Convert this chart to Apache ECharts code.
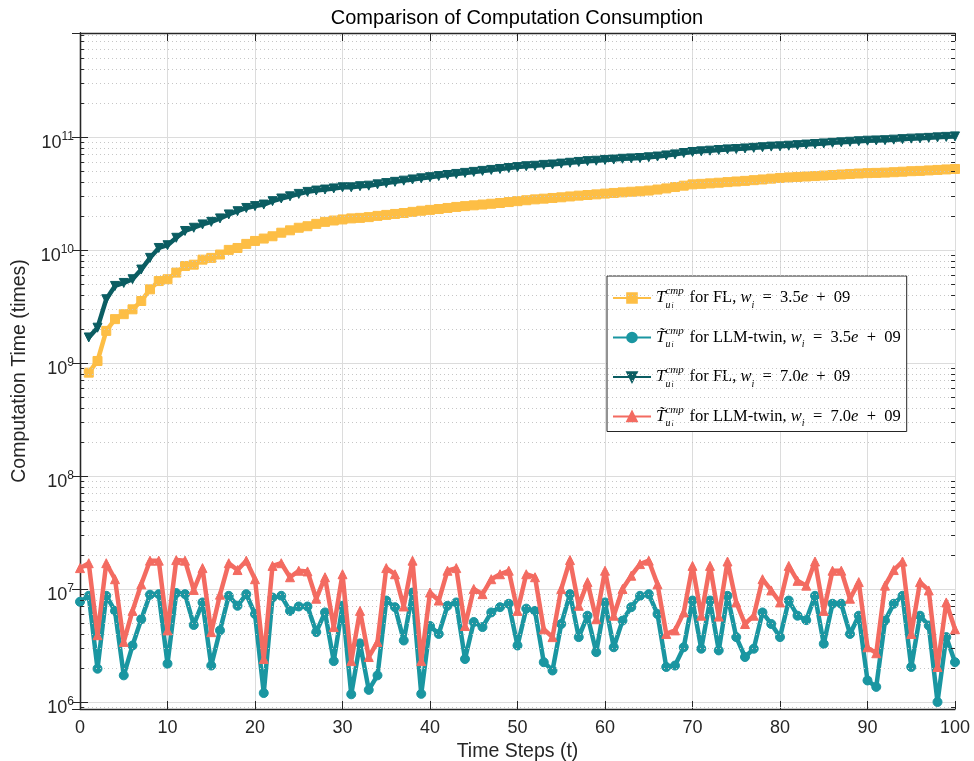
<!DOCTYPE html>
<html>
<head>
<meta charset="utf-8">
<script src="https://cdn.jsdelivr.net/npm/echarts@6/dist/echarts.min.js"></script>
<style>
  html, body { margin: 0; padding: 0; background: #fff; }
  #chart { width: 974px; height: 761px; }
</style>
</head>
<body>
<div id="chart"></div>
<script>
// Time steps on the x axis
const steps = Array.from({ length: 101 }, (_, i) => i);

// Cumulative computation for FL, w_i = 3.5e+09 (starts at t = 1)
const flLow = [null,
  8.2e8, 1.04e9, 1.92e9, 2.44e9, 2.7e9, 2.98e9, 3.53e9, 4.48e9, 5.3e9, 5.5e9,
  6.3e9, 7.2e9, 7.4e9, 8.2e9, 8.5e9, 9.1e9, 1.0e10, 1.04e10, 1.13e10, 1.2e10,
  1.26e10, 1.32e10, 1.42e10, 1.49e10, 1.57e10, 1.62e10, 1.7e10, 1.77e10, 1.82e10, 1.86e10,
  1.9e10, 1.92e10, 1.95e10, 2.0e10, 2.04e10, 2.08e10, 2.12e10, 2.17e10, 2.22e10, 2.26e10,
  2.3e10, 2.35e10, 2.4e10, 2.44e10, 2.48e10, 2.52e10, 2.56e10, 2.6e10, 2.65e10, 2.7e10,
  2.75e10, 2.8e10, 2.84e10, 2.88e10, 2.92e10, 2.97e10, 3.02e10, 3.06e10, 3.1e10, 3.15e10,
  3.19e10, 3.23e10, 3.27e10, 3.3e10, 3.35e10, 3.42e10, 3.5e10, 3.6e10, 3.7e10, 3.8e10,
  3.84e10, 3.88e10, 3.93e10, 3.98e10, 4.03e10, 4.08e10, 4.14e10, 4.2e10, 4.27e10, 4.33e10,
  4.38e10, 4.42e10, 4.46e10, 4.5e10, 4.55e10, 4.6e10, 4.65e10, 4.7e10, 4.74e10, 4.78e10,
  4.8e10, 4.83e10, 4.87e10, 4.92e10, 4.97e10, 5.0e10, 5.05e10, 5.1e10, 5.15e10, 5.2e10];

// LLM-twin computation, w_i = 3.5e+09
const twinLow = [
  7.7e6, 8.7e6, 1.97e6, 8.7e6, 6.4e6, 1.72e6, 3.16e6, 5.4e6, 8.9e6, 9.0e6,
  2.18e6, 9.2e6, 9.0e6, 4.8e6, 7.6e6, 2.1e6, 4.3e6, 8.7e6, 7.1e6, 9.0e6,
  6.0e6, 1.2e6, 8.4e6, 8.7e6, 6.4e6, 7.0e6, 7.0e6, 4.15e6, 6.2e6, 2.3e6,
  7.1e6, 1.17e6, 3.3e6, 1.28e6, 1.72e6, 7.9e6, 6.9e6, 3.5e6, 9.3e6, 1.18e6,
  4.7e6, 4.0e6, 7.1e6, 7.6e6, 2.4e6, 5.1e6, 4.6e6, 6.2e6, 6.9e6, 7.4e6,
  3.16e6, 6.7e6, 6.4e6, 2.25e6, 1.9e6, 4.9e6, 9.0e6, 3.75e6, 5.8e6, 2.76e6,
  7.6e6, 3.05e6, 5.25e6, 6.9e6, 8.7e6, 9.0e6, 6.0e6, 2.04e6, 2.1e6, 3.05e6,
  7.9e6, 2.96e6, 7.9e6, 2.86e6, 8.7e6, 3.75e6, 2.5e6, 2.96e6, 6.2e6, 4.9e6,
  3.75e6, 7.9e6, 5.8e6, 5.3e6, 8.7e6, 3.27e6, 7.4e6, 7.4e6, 4.0e6, 5.8e6,
  1.55e6, 1.36e6, 5.25e6, 7.4e6, 8.7e6, 2.04e6, 5.8e6, 4.75e6, 1.0e6, 3.75e6, 2.25e6];

// Cumulative computation for FL, w_i = 7.0e+09 (starts at t = 1)
const flHigh = [null,
  1.68e9, 2.05e9, 3.66e9, 4.8e9, 5.1e9, 5.5e9, 6.7e9, 8.5e9, 1.04e10, 1.1e10,
  1.28e10, 1.47e10, 1.57e10, 1.68e10, 1.77e10, 1.9e10, 2.06e10, 2.2e10, 2.35e10, 2.44e10,
  2.52e10, 2.7e10, 2.85e10, 2.98e10, 3.13e10, 3.26e10, 3.35e10, 3.42e10, 3.5e10, 3.58e10,
  3.58e10, 3.66e10, 3.7e10, 3.8e10, 3.9e10, 4.0e10, 4.1e10, 4.2e10, 4.3e10, 4.4e10,
  4.5e10, 4.6e10, 4.7e10, 4.8e10, 4.9e10, 5.0e10, 5.1e10, 5.2e10, 5.3e10, 5.4e10,
  5.5e10, 5.55e10, 5.65e10, 5.7e10, 5.8e10, 5.9e10, 6.0e10, 6.1e10, 6.15e10, 6.25e10,
  6.3e10, 6.4e10, 6.45e10, 6.5e10, 6.6e10, 6.7e10, 6.85e10, 7.0e10, 7.2e10, 7.35e10,
  7.45e10, 7.55e10, 7.65e10, 7.75e10, 7.8e10, 7.9e10, 8.0e10, 8.1e10, 8.2e10, 8.25e10,
  8.35e10, 8.45e10, 8.55e10, 8.65e10, 8.75e10, 8.85e10, 8.95e10, 9.05e10, 9.15e10, 9.25e10,
  9.3e10, 9.35e10, 9.45e10, 9.55e10, 9.65e10, 9.7e10, 9.8e10, 9.9e10, 1.0e11, 1.01e11];

// LLM-twin computation, w_i = 7.0e+09
const twinHigh = [
  1.53e7, 1.69e7, 3.9e6, 1.69e7, 1.22e7, 3.4e6, 6.4e6, 1.1e7, 1.78e7, 1.78e7,
  4.3e6, 1.8e7, 1.78e7, 9.8e6, 1.53e7, 4.15e6, 8.9e6, 1.69e7, 1.47e7, 1.78e7,
  1.22e7, 2.4e6, 1.6e7, 1.69e7, 1.27e7, 1.45e7, 1.43e7, 8.2e6, 1.27e7, 4.6e6,
  1.35e7, 2.3e6, 6.4e6, 2.5e6, 3.4e6, 1.53e7, 1.35e7, 7.0e6, 1.78e7, 2.3e6,
  9.3e6, 7.9e6, 1.45e7, 1.53e7, 4.7e6, 1.0e7, 9.0e6, 1.22e7, 1.35e7, 1.45e7,
  6.4e6, 1.35e7, 1.27e7, 4.4e6, 3.75e6, 1.0e7, 1.8e7, 7.1e6, 1.15e7, 5.4e6,
  1.45e7, 5.8e6, 1.0e7, 1.31e7, 1.66e7, 1.78e7, 1.1e7, 4.0e6, 4.3e6, 6.2e6,
  1.6e7, 5.8e6, 1.6e7, 5.7e6, 1.75e7, 7.6e6, 4.9e6, 5.8e6, 1.22e7, 9.7e6,
  7.6e6, 1.6e7, 1.18e7, 1.07e7, 1.75e7, 6.4e6, 1.45e7, 1.45e7, 8.2e6, 1.15e7,
  3.05e6, 2.7e6, 1.07e7, 1.47e7, 1.75e7, 4.0e6, 1.15e7, 9.7e6, 2.04e6, 7.6e6, 4.4e6];

const seriesNames = ['FL 3.5e+09', 'LLM-twin 3.5e+09', 'FL 7.0e+09', 'LLM-twin 7.0e+09'];
const seriesColors = ['#FDBE45', '#1A96A1', '#0B5D62', '#F36B61'];
const xTicks = [0, 100, 10];          // min, max, step
const yRange = [8.67e5, 8.3e11];

const FONT = "'Liberation Sans', Arial, Helvetica, sans-serif";
const SERIF = "'Liberation Serif', 'DejaVu Serif', serif";
const AXIS_COLOR = '#262626';
const EN = '\u2002';

// Legend labels in math-style rich text
function mathLabel(tilde, method, w) {
  return '{T|T' + (tilde ? '\u0303' : '') + '}{sup|cmp}{su|u}{si|i}' +
    '{tx| for ' + method + ', }{it|w}{wi|i}{tx|' + EN + '=' + EN + w + '}{it|e}{tx|' + EN + '+' + EN + '09}';
}
const legendText = {
  'FL 3.5e+09': mathLabel(false, 'FL', '3.5'),
  'LLM-twin 3.5e+09': mathLabel(true, 'LLM-twin', '3.5'),
  'FL 7.0e+09': mathLabel(false, 'FL', '7.0'),
  'LLM-twin 7.0e+09': mathLabel(true, 'LLM-twin', '7.0')
};

// Log-axis minor gridlines at 2..9 x 10^n
const minorValues = [];
for (let n = 5; n <= 11; n++) {
  for (let k = 2; k <= 9; k++) {
    const v = k * Math.pow(10, n);
    if (v > yRange[0] && v < yRange[1]) minorValues.push(v);
  }
}

function toPoints(values) {
  const out = [];
  values.forEach((v, i) => { if (v != null) out.push([steps[i], v]); });
  return out;
}

const chart = echarts.init(document.getElementById('chart'), null, { renderer: 'canvas' });

const lineSeries = [flLow, twinLow, flHigh, twinHigh].map((vals, i) => ({
  name: seriesNames[i],
  type: 'line',
  data: toPoints(vals),
  symbol: ['rect', 'circle', 'triangle', 'triangle'][i],
  symbolRotate: i === 2 ? 180 : 0,
  symbolSize: 9,
  showAllSymbol: true,
  clip: false,
  z: 3 + i,
  lineStyle: { width: 4.5, color: seriesColors[i] },
  itemStyle: { color: seriesColors[i], borderColor: seriesColors[i], borderWidth: 1 },
  emphasis: { disabled: true },
  animation: false
}));

const minorTickLen = 0.45;
const gridHelper = {
  type: 'line',
  data: [],
  z: 1,
  silent: true,
  animation: false,
  markLine: {
    silent: true,
    symbol: 'none',
    animation: false,
    label: { show: false },
    data: [
      ...minorValues.map(v => ({ yAxis: v, lineStyle: { type: [1, 3], color: '#c6c6c6', width: 1 } })),
      ...minorValues.map(v => [
        { coord: [xTicks[0], v], lineStyle: { type: 'solid', color: AXIS_COLOR, width: 1 } },
        { coord: [xTicks[0] + minorTickLen, v] }
      ]),
      ...minorValues.map(v => [
        { coord: [xTicks[1] - minorTickLen, v], lineStyle: { type: 'solid', color: AXIS_COLOR, width: 1 } },
        { coord: [xTicks[1], v] }
      ])
    ]
  }
};

const axisLineStyle = { show: true, lineStyle: { color: AXIS_COLOR, width: 1.3 } };
const axisTickStyle = { show: true, inside: true, length: 8, lineStyle: { color: AXIS_COLOR, width: 1 } };

chart.setOption({
  backgroundColor: '#fff',
  animation: false,
  title: {
    text: 'Comparison of Computation Consumption',
    left: 512,
    textAlign: 'center',
    top: 3,
    padding: 5,
    textStyle: { fontFamily: FONT, fontSize: 20, fontWeight: 'normal', color: '#000' }
  },
  grid: { left: 80, right: 19, top: 33, bottom: 52, containLabel: false, outerBoundsMode: 'none' },
  legend: {
    orient: 'vertical',
    left: 607,
    top: 276,
    padding: [10, 6, 3, 5],
    itemGap: 15.5,
    itemWidth: 38,
    itemHeight: 12,
    borderColor: AXIS_COLOR,
    borderWidth: 1,
    borderRadius: 0,
    backgroundColor: '#fff',
    data: seriesNames,
    selectedMode: false,
    formatter: name => legendText[name],
    textStyle: {
      color: '#000',
      rich: {
        T: { fontFamily: SERIF, fontStyle: 'italic', fontSize: 17, lineHeight: 24, color: '#000' },
        sup: { fontFamily: SERIF, fontStyle: 'italic', fontSize: 11, lineHeight: 16, verticalAlign: 'top', width: 0, color: '#000' },
        su: { fontFamily: SERIF, fontStyle: 'italic', fontSize: 10, lineHeight: 10, verticalAlign: 'bottom', width: 6, color: '#000' },
        si: { fontFamily: SERIF, fontStyle: 'italic', fontSize: 7.5, lineHeight: 8, verticalAlign: 'bottom', width: 14, color: '#000' },
        tx: { fontFamily: SERIF, fontSize: 16.5, lineHeight: 24, color: '#000' },
        it: { fontFamily: SERIF, fontStyle: 'italic', fontSize: 16.5, lineHeight: 24, color: '#000' },
        wi: { fontFamily: SERIF, fontStyle: 'italic', fontSize: 10, lineHeight: 12, verticalAlign: 'bottom', color: '#000' }
      }
    }
  },
  xAxis: [
    {
      type: 'value', position: 'bottom',
      min: xTicks[0], max: xTicks[1], interval: xTicks[2],
      axisLine: axisLineStyle, axisTick: axisTickStyle,
      axisLabel: { fontFamily: FONT, fontSize: 18, color: AXIS_COLOR, margin: 10 },
      splitLine: { show: true, lineStyle: { color: '#dcdcdc', width: 1 } },
      name: 'Time Steps (t)', nameLocation: 'middle', nameGap: 33,
      nameTextStyle: { fontFamily: FONT, fontSize: 19.5, color: AXIS_COLOR }
    },
    {
      type: 'value', position: 'top',
      min: xTicks[0], max: xTicks[1], interval: xTicks[2],
      axisLine: axisLineStyle, axisTick: axisTickStyle,
      axisLabel: { show: false }, splitLine: { show: false }
    }
  ],
  yAxis: [
    {
      type: 'log', logBase: 10, position: 'left',
      min: yRange[0], max: yRange[1],
      axisLine: axisLineStyle, axisTick: axisTickStyle,
      axisLabel: {
        margin: 6,
        formatter: v => {
          const e = Math.log10(v);
          const r = Math.round(e);
          if (Math.abs(e - r) > 1e-6) return '';
          return '{b|10}{e|' + r + '}{z| }';
        },
        rich: {
          b: { fontFamily: FONT, fontSize: 18, lineHeight: 22, verticalAlign: 'bottom', color: AXIS_COLOR },
          e: { fontFamily: FONT, fontSize: 12, lineHeight: 14, padding: [9, 0, 0, 0], verticalAlign: 'top', color: AXIS_COLOR },
          z: { fontFamily: FONT, fontSize: 1, lineHeight: 30, width: 0, color: AXIS_COLOR }
        }
      },
      splitLine: { show: true, lineStyle: { color: '#dcdcdc', width: 1 } },
      name: 'Computation Time (times)', nameLocation: 'middle', nameGap: 42,
      nameTextStyle: { fontFamily: FONT, fontSize: 19.5, color: AXIS_COLOR }
    },
    {
      type: 'log', logBase: 10, position: 'right',
      min: yRange[0], max: yRange[1],
      axisLine: axisLineStyle, axisTick: axisTickStyle,
      axisLabel: { show: false }, splitLine: { show: false }
    }
  ],
  series: [gridHelper, ...lineSeries]
});
</script>
</body>
</html>
